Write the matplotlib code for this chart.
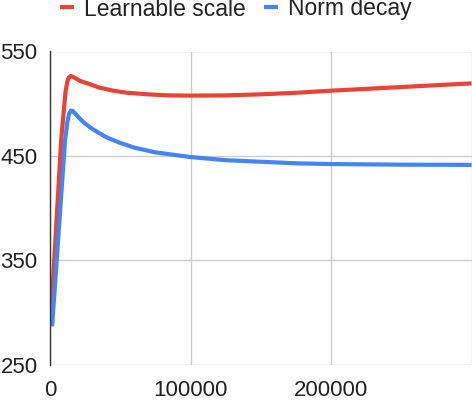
import matplotlib
matplotlib.use('Agg')
import matplotlib.pyplot as plt

plt.rcParams['font.family'] = ['Liberation Sans', 'DejaVu Sans']

# 数据
red_steps = [500, 8000, 11000, 12300, 13300, 14500, 16000, 18000, 22000, 28000, 35000, 45000,
             55000, 70000, 85000, 100000, 125000, 150000, 175000, 200000, 250000, 300000]
red_vals = [292, 466, 511, 521, 525, 526.5, 526, 524.5, 521.5, 519, 515.5, 512.5,
            510.5, 509, 508, 507.8, 508, 509, 510.5, 512.5, 516, 519.5]

blue_steps = [1500, 10700, 12300, 13500, 14800, 16200, 18000, 21000, 25000, 30000, 40000, 50000,
              60000, 75000, 100000, 125000, 150000, 175000, 200000, 250000, 300000]
blue_vals = [287, 465, 482, 490, 493.5, 493, 490.5, 486, 481, 476, 468, 462.5,
             458, 453.5, 449, 446, 444.5, 443, 442.3, 441.7, 441.5]

x_ticks = [0, 100000, 200000]
y_ticks = [250, 350, 450, 550]
labels = ['Learnable scale', 'Norm decay']
colors = ['#EA4335', '#4285F4']

fig = plt.figure(figsize=(4.72, 4.0), dpi=100)
ax = fig.add_axes([50 / 472, 35 / 400, 421.5 / 472, 313.5 / 400])

ax.plot(red_steps, red_vals, color=colors[0], linewidth=3, label=labels[0],
        solid_capstyle='butt', solid_joinstyle='round')
ax.plot(blue_steps, blue_vals, color=colors[1], linewidth=3, label=labels[1],
        solid_capstyle='butt', solid_joinstyle='round')

ax.set_xlim(0, 300000)
ax.set_ylim(250, 550)
ax.set_xticks(x_ticks + [300000])
ax.set_xticklabels([str(t) for t in x_ticks] + [''])
ax.set_yticks(y_ticks)
ax.set_yticklabels([str(t) for t in y_ticks])

# 网格和坐标轴
ax.grid(True, color='#cccccc', linewidth=1)
ax.set_axisbelow(True)
for side in ['top', 'right', 'bottom']:
    ax.spines[side].set_visible(False)
ax.spines['left'].set_color('#333333')
ax.spines['left'].set_linewidth(1)
ax.tick_params(axis='both', length=0, labelsize=16, labelcolor='#222222')
ax.tick_params(axis='y', pad=9)
ax.tick_params(axis='x', pad=11)

# 图例
fig.legend(loc='center', bbox_to_anchor=(0.5, 1 - 9 / 400), ncol=2, frameon=False,
           fontsize=16.5, handlelength=0.6, handletextpad=0.45, columnspacing=0.8,
           borderaxespad=0, labelcolor='#222222')

plt.savefig('out.png', dpi=100)
plt.close()
